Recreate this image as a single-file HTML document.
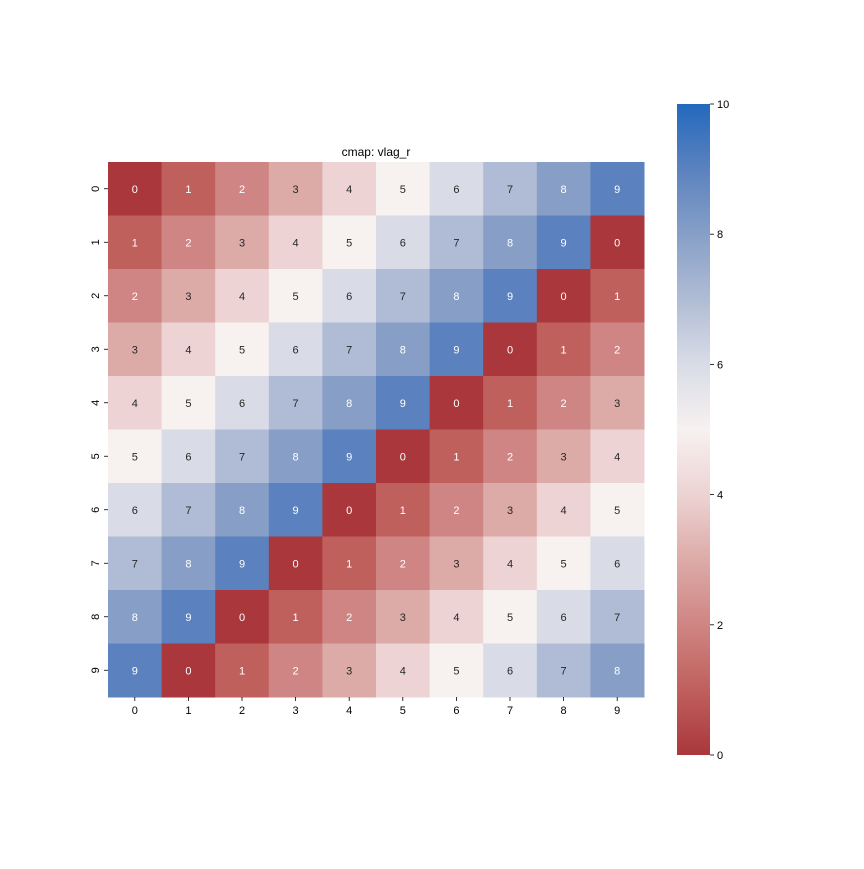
<!DOCTYPE html>
<html><head><meta charset="utf-8"><style>
body{margin:0;background:#fff;}
svg text{font-family:"Liberation Sans",sans-serif;}
</style></head><body>
<svg id="chart" width="864" height="864" xmlns="http://www.w3.org/2000/svg">
<defs>
<linearGradient id="cbgrad" x1="0" y1="1" x2="0" y2="0">
<stop offset="0" stop-color="#a9373b"/>
<stop offset="0.1" stop-color="#c0605d"/>
<stop offset="0.2" stop-color="#cf8583"/>
<stop offset="0.3" stop-color="#dcaba8"/>
<stop offset="0.4" stop-color="#edd3d3"/>
<stop offset="0.5" stop-color="#f7f1f0"/>
<stop offset="0.6" stop-color="#d9dce6"/>
<stop offset="0.7" stop-color="#b0bcd5"/>
<stop offset="0.8" stop-color="#879fc7"/>
<stop offset="0.9" stop-color="#5b82bf"/>
<stop offset="1" stop-color="#2369bd"/>
</linearGradient>
</defs>
<text x="376" y="156" font-size="12" text-anchor="middle" fill="#000">cmap: vlag_r</text>
<g id="cells"></g>
<g id="axes"></g>
<rect x="677" y="104" width="33" height="651" fill="url(#cbgrad)"/>
<g id="cbticks"></g>
</svg>
<script>
const rowLabels=["0","1","2","3","4","5","6","7","8","9"];
const colLabels=["0","1","2","3","4","5","6","7","8","9"];
const values=[
[0,1,2,3,4,5,6,7,8,9],
[1,2,3,4,5,6,7,8,9,0],
[2,3,4,5,6,7,8,9,0,1],
[3,4,5,6,7,8,9,0,1,2],
[4,5,6,7,8,9,0,1,2,3],
[5,6,7,8,9,0,1,2,3,4],
[6,7,8,9,0,1,2,3,4,5],
[7,8,9,0,1,2,3,4,5,6],
[8,9,0,1,2,3,4,5,6,7],
[9,0,1,2,3,4,5,6,7,8]];
const cbTicks=[0,2,4,6,8,10];
const palette=["#a9373b","#c0605d","#cf8583","#dcaba8","#edd3d3","#f7f1f0","#d9dce6","#b0bcd5","#879fc7","#5b82bf","#2369bd"];
const NS="http://www.w3.org/2000/svg";
const X0=108,X1=644,Y0=162,Y1=697;
const cw=(X1-X0)/colLabels.length, ch=(Y1-Y0)/rowLabels.length;
const xs=j=>X0+j*cw, ys=i=>Y0+i*ch;
const vmin=0,vmax=10;
const color=v=>{const t=(v-vmin)/(vmax-vmin)*10;const k=Math.max(0,Math.min(10,Math.round(t)));return palette[k];};
const textCol=v=>{const t=(v-vmin)/(vmax-vmin);return (t<0.25||t>0.75)?"#fff":"#262626";};
function mk(tag,attrs,parent){const e=document.createElementNS(NS,tag);for(const k in attrs)e.setAttribute(k,attrs[k]);parent.appendChild(e);return e;}
const cells=document.getElementById('cells');
values.forEach((row,i)=>row.forEach((v,j)=>{
 const r=mk('rect',{x:xs(j),y:ys(i),width:cw+0.5,height:ch+0.5,fill:color(v)},cells);
 
 
 const t=mk('text',{x:xs(j)+cw/2,y:ys(i)+ch/2+4,'font-size':11,'text-anchor':'middle',fill:textCol(v)},cells);
 
 
 t.textContent=v;
}));
const axes=document.getElementById('axes');
colLabels.forEach((l,j)=>{
 const x=xs(j)+cw/2;
 const tk=mk('line',{x1:x,x2:x,y1:Y1,y2:Y1+4,stroke:'#000','stroke-width':0.8},axes);
 
 
 const t=mk('text',{x:x,y:Y1+17,'font-size':11,'text-anchor':'middle',fill:'#000'},axes);
 
 
 t.textContent=l;
});
rowLabels.forEach((l,i)=>{
 const y=ys(i)+ch/2;
 const tk=mk('line',{x1:X0-4,x2:X0,y1:y,y2:y,stroke:'#000','stroke-width':0.8},axes);
 
 
 const t=mk('text',{x:0,y:0,'font-size':11,'text-anchor':'middle',fill:'#000',transform:`translate(${X0-9},${y}) rotate(-90)`},axes);
 
 
 t.textContent=l;
});
const cb=document.getElementById('cbticks');
const CB0=755,CB1=104;
const cy=v=>CB0+(v-vmin)/(vmax-vmin)*(CB1-CB0);
cbTicks.forEach(v=>{
 const y=cy(v);
 const tk=mk('line',{x1:710,x2:714,y1:y,y2:y,stroke:'#000','stroke-width':0.8},cb);
 
 
 const t=mk('text',{x:717,y:y+4,'font-size':11,fill:'#000'},cb);
 
 
 t.textContent=v;
});
</script>
</body></html>
